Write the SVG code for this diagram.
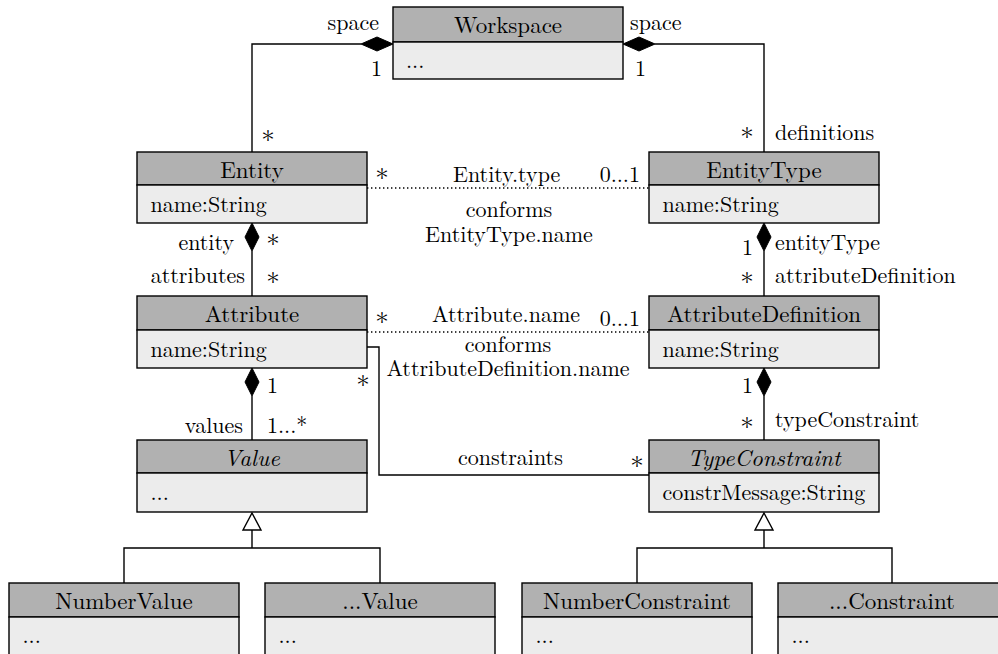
<svg xmlns="http://www.w3.org/2000/svg" width="998" height="654" viewBox="0 0 998 654">
  <style>
    text { font-family: "Latin Modern Roman", "Liberation Serif", serif; font-size: 22px; fill: #000; }
    .head { fill: #b1b1b1; stroke: #000; stroke-width: 1.4; }
    .body { fill: #ececec; stroke: #000; stroke-width: 1.4; }
    .title { text-anchor: middle; font-size: 23px; }
    .it { font-style: italic; }
    .end { text-anchor: end; }
    .mid { text-anchor: middle; }
    .ast { font-size: 27px; text-anchor: middle; }
    .line { fill: none; stroke: #000; stroke-width: 1.4; }
    .dot { fill: none; stroke: #000; stroke-width: 1.4; stroke-dasharray: 1.4 2.6; }
    .dia { fill: #000; stroke: #000; stroke-width: 1; }
    .tri { fill: #fff; stroke: #000; stroke-width: 1.4; }
  </style>

  <!-- associations, compositions, generalizations -->
  <g id="connectors">
    <!-- Workspace compositions -->
    <path class="line" d="M361 44 H252 V152"/>
    <polygon class="dia" points="393,44 377,37 361,44 377,51"/>
    <path class="line" d="M655 44 H764 V152"/>
    <polygon class="dia" points="623,44 639,37 655,44 639,51"/>

    <!-- Entity / Attribute -->
    <path class="line" d="M252 251 V296"/>
    <polygon class="dia" points="252,223 259,237 252,251 245,237"/>
    <!-- EntityType / AttributeDefinition -->
    <path class="line" d="M764 251 V296"/>
    <polygon class="dia" points="764,223 771,237 764,251 757,237"/>
    <!-- Attribute / Value -->
    <path class="line" d="M252 396 V440"/>
    <polygon class="dia" points="252,368 259,382 252,396 245,382"/>
    <!-- AttributeDefinition / TypeConstraint -->
    <path class="line" d="M764 396 V440"/>
    <polygon class="dia" points="764,368 771,382 764,396 757,382"/>

    <!-- conformance links -->
    <path class="dot" d="M367 188 H649"/>
    <path class="dot" d="M367 332 H649"/>

    <!-- Attribute constraints -->
    <path class="line" d="M367 347 H379 V475 H649"/>

    <!-- Value generalization -->
    <path class="line" d="M252 530 V548 M124 583 V548 H380 V583"/>
    <polygon class="tri" points="252,513 261,530 243,530"/>
    <!-- TypeConstraint generalization -->
    <path class="line" d="M764 530 V548 M637 583 V548 H892 V583"/>
    <polygon class="tri" points="764,513 773,530 755,530"/>

    <!-- role names and multiplicities -->
    <text class="end" x="379" y="30">space</text>
    <text class="end" x="382" y="76">1</text>
    <text x="630" y="30">space</text>
    <text x="635" y="76">1</text>
    <text class="ast" x="268" y="150">*</text>
    <text class="ast" x="747" y="147">*</text>
    <text x="775" y="140">definitions</text>

    <text class="ast" x="382" y="188">*</text>
    <text x="453" y="182">Entity.type</text>
    <text class="end" x="640" y="182">0...1</text>
    <text class="mid" x="509" y="217">conforms</text>
    <text class="mid" x="509" y="242">EntityType.name</text>

    <text class="end" x="234" y="250">entity</text>
    <text class="ast" x="273" y="254">*</text>
    <text class="end" x="245" y="283">attributes</text>
    <text class="ast" x="273" y="292">*</text>

    <text x="742" y="255">1</text>
    <text x="775" y="250">entityType</text>
    <text class="ast" x="747" y="292">*</text>
    <text x="775" y="283">attributeDefinition</text>

    <text class="ast" x="382" y="332">*</text>
    <text x="432" y="322">Attribute.name</text>
    <text class="end" x="640" y="326">0...1</text>
    <text class="mid" x="508" y="352">conforms</text>
    <text class="mid" x="508" y="375.5">AttributeDefinition.name</text>

    <text class="ast" x="363" y="395">*</text>
    <text x="267" y="393">1</text>
    <text class="end" x="243" y="433">values</text>
    <text x="267" y="433">1...*</text>

    <text x="742" y="393">1</text>
    <text class="ast" x="747" y="437">*</text>
    <text x="775" y="427">typeConstraint</text>

    <text x="458" y="465">constraints</text>
    <text class="ast" x="637" y="476">*</text>
  </g>

  <g id="Workspace">
    <rect class="head" x="393" y="7" width="230" height="35"/>
    <rect class="body" x="393" y="42" width="230" height="37"/>
    <text class="title" x="508" y="33">Workspace</text>
    <text x="406" y="68">...</text>
  </g>

  <g id="Entity">
    <rect class="head" x="137" y="152" width="230" height="33"/>
    <rect class="body" x="137" y="185" width="230" height="38"/>
    <text class="title" x="252" y="177.5">Entity</text>
    <text x="150.5" y="212">name:String</text>
  </g>

  <g id="EntityType">
    <rect class="head" x="649" y="152" width="230" height="33"/>
    <rect class="body" x="649" y="185" width="230" height="38"/>
    <text class="title" x="764" y="177.5">EntityType</text>
    <text x="662.5" y="212">name:String</text>
  </g>

  <g id="Attribute">
    <rect class="head" x="137" y="296" width="230" height="34"/>
    <rect class="body" x="137" y="330" width="230" height="38"/>
    <text class="title" x="252" y="321.5">Attribute</text>
    <text x="150.5" y="357">name:String</text>
  </g>

  <g id="AttributeDefinition">
    <rect class="head" x="649" y="296" width="230" height="34"/>
    <rect class="body" x="649" y="330" width="230" height="38"/>
    <text class="title" x="764" y="321.5">AttributeDefinition</text>
    <text x="662.5" y="357">name:String</text>
  </g>

  <g id="Value">
    <rect class="head" x="137" y="440" width="230" height="33"/>
    <rect class="body" x="137" y="473" width="230" height="39"/>
    <text class="title it" x="252" y="465.5">Value</text>
    <text x="150.5" y="500">...</text>
  </g>

  <g id="TypeConstraint">
    <rect class="head" x="649" y="440" width="230" height="33"/>
    <rect class="body" x="649" y="473" width="230" height="39"/>
    <text class="title it" x="764" y="465.5">TypeConstraint</text>
    <text x="662.5" y="500">constrMessage:String</text>
  </g>

  <g id="NumberValue">
    <rect class="head" x="9" y="583" width="230" height="34"/>
    <rect class="body" x="9" y="617" width="230" height="50"/>
    <text class="title" x="124" y="608.5">NumberValue</text>
    <text x="22.5" y="643">...</text>
  </g>

  <g id="OtherValue">
    <rect class="head" x="265" y="583" width="230" height="34"/>
    <rect class="body" x="265" y="617" width="230" height="50"/>
    <text class="title" x="380" y="608.5">...Value</text>
    <text x="278.5" y="643">...</text>
  </g>

  <g id="NumberConstraint">
    <rect class="head" x="522" y="583" width="230" height="34"/>
    <rect class="body" x="522" y="617" width="230" height="50"/>
    <text class="title" x="637" y="608.5">NumberConstraint</text>
    <text x="535.5" y="643">...</text>
  </g>

  <g id="OtherConstraint">
    <rect class="head" x="778" y="583" width="230" height="34"/>
    <rect class="body" x="778" y="617" width="230" height="50"/>
    <text class="title" x="892" y="608.5">...Constraint</text>
    <text x="791.5" y="643">...</text>
  </g>
</svg>
